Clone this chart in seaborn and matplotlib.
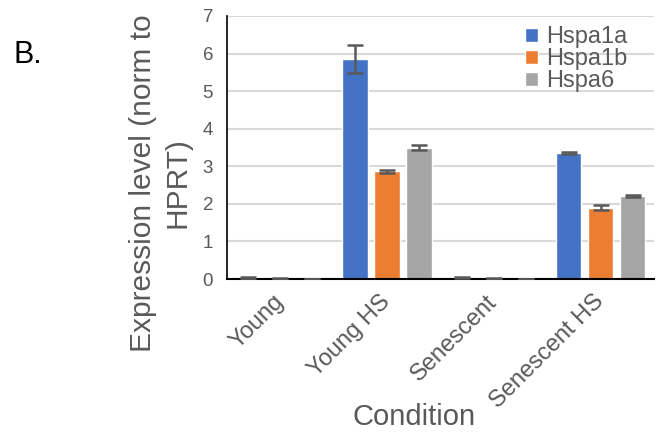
import matplotlib
matplotlib.use("Agg")
import matplotlib.pyplot as plt
import seaborn as sns
import pandas as pd
import numpy as np

conditions = ["Young", "Young HS", "Senescent", "Senescent HS"]
genes = ["Hspa1a", "Hspa1b", "Hspa6"]
hspa1a = [0.03, 5.85, 0.04, 3.36]
hspa1b = [0.01, 2.87, 0.02, 1.90]
hspa6 = [0.005, 3.50, 0.005, 2.20]
err_hspa1a = [0.02, 0.38, 0.02, 0.02]
err_hspa1b = [0.01, 0.04, 0.01, 0.06]
err_hspa6 = [0.0, 0.07, 0.0, 0.03]
colors = ["#4472C4", "#ED7D31", "#A5A5A5"]

rows = []
for g, vals, errs in zip(genes, [hspa1a, hspa1b, hspa6], [err_hspa1a, err_hspa1b, err_hspa6]):
    for c, v, e in zip(conditions, vals, errs):
        rows.append({"Condition": c, "Gene": g, "Value": v, "Err": e})
df = pd.DataFrame(rows)

sns.set_theme(style="white")
plt.rcParams['font.family'] = ['Liberation Sans', 'DejaVu Sans']

fig = plt.figure(figsize=(6.59, 4.37), dpi=100)
ax = fig.add_axes([227/659, 1-279/437, 427/659, 263/437])

sns.barplot(data=df, x="Condition", y="Value", hue="Gene", order=conditions,
            hue_order=genes, palette=colors, saturation=1, width=0.9, gap=0.2,
            errorbar=None, ax=ax, zorder=2)

# error bars at bar centres
for cont, g in zip(ax.containers, genes):
    sub = df[df.Gene == g].set_index("Condition").loc[conditions]
    xs = [p.get_x() + p.get_width() / 2 for p in cont.patches]
    ax.errorbar(xs, sub["Value"].values, yerr=sub["Err"].values, fmt="none",
                ecolor="#595959", elinewidth=1.8, capsize=6, capthick=1.8, zorder=3)

ax.set_xlim(-0.5, 3.5)
ax.set_ylim(0, 7)
ax.set_yticks(range(0, 8))
ax.yaxis.grid(True, color="#D9D9D9", linewidth=1.5, zorder=0)
ax.set_axisbelow(True)
for s in ["top", "right"]:
    ax.spines[s].set_visible(False)
ax.spines["left"].set_color("black")
ax.spines["bottom"].set_color("black")
ax.spines["left"].set_linewidth(1.2)
ax.spines["bottom"].set_linewidth(1.5)
ax.tick_params(axis="y", labelsize=13.5, colors="#595959", length=0, pad=10)
ax.tick_params(axis="x", labelsize=17, colors="#595959", length=0, pad=14)
for lab in ax.get_xticklabels():
    lab.set_rotation(45)
    lab.set_ha("right")
    lab.set_va("center")
    lab.set_rotation_mode("anchor")
ax.set_xlabel("Condition", fontsize=21, color="#595959")
ax.xaxis.set_label_coords((414-227)/427, -(417-279)/263)
ax.xaxis.label.set_va("center")
ax.set_ylabel("Expression level (norm to\nHPRT)", fontsize=21.5, color="#595959",
              linespacing=1.3)
ax.yaxis.set_label_coords(-(227-160)/427, (279-183)/263)
ax.yaxis.label.set_va("center")

leg = ax.legend(loc="upper left", frameon=False, fontsize=17, handlelength=0.55,
                handleheight=0.55, handletextpad=0.35, labelspacing=0.0,
                bbox_to_anchor=((525-227)/427, (279-26)/263), borderaxespad=0.0,
                borderpad=0.0)
for t in leg.get_texts():
    t.set_color("#595959")

fig.text(14/659, 1-55/437, "B.", fontsize=22, color="black", va="center", ha="left")

fig.savefig("out.png", dpi=100)
